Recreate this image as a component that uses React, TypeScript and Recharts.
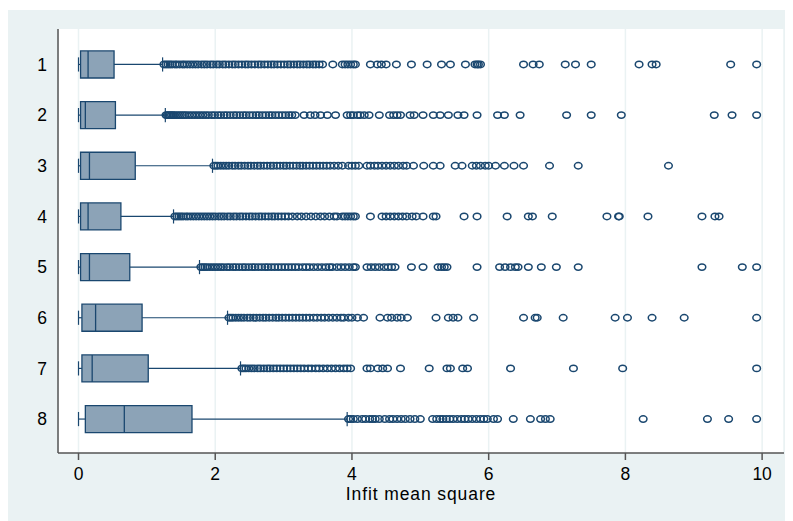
import {
  ScatterChart,
  Scatter,
  XAxis,
  YAxis,
  CartesianGrid,
  ReferenceArea,
  ReferenceLine,
} from "recharts";

const rows = [1, 2, 3, 4, 5, 6, 7, 8];
const lowerWhisker = [0, 0, 0, 0, 0, 0, 0, 0];
const q1 = [0.03, 0.03, 0.03, 0.03, 0.03, 0.05, 0.05, 0.1];
const median = [0.14, 0.1, 0.16, 0.14, 0.16, 0.25, 0.2, 0.67];
const q3 = [0.52, 0.54, 0.83, 0.62, 0.75, 0.93, 1.02, 1.66];
const upperWhisker = [1.23, 1.27, 1.96, 1.39, 1.77, 2.18, 2.37, 3.93];

const outliers1 = [
  1.25, 1.28, 1.31, 1.34, 1.37, 1.41, 1.44, 1.48, 1.52, 1.55, 1.59, 1.63, 1.67, 1.71, 1.75, 1.8,
  1.84, 1.88, 1.93, 1.97, 2.02, 2.06, 2.11, 2.15, 2.2, 2.25, 2.29, 2.34, 2.39, 2.44, 2.48, 2.53,
  2.58, 2.63, 2.67, 2.72, 2.77, 2.82, 2.86, 2.91, 2.96, 3.01, 3.06, 3.1, 3.15, 3.2, 3.24, 3.29,
  3.34, 3.38, 3.43, 3.47, 3.52, 3.57, 3.72, 3.86, 3.9, 3.94, 3.98, 4.02, 4.05, 4.27, 4.37, 4.43,
  4.5, 4.65, 4.87, 5.1, 5.31, 5.44, 5.66, 5.8, 5.83, 5.85, 5.88, 6.51, 6.65, 6.74, 7.12, 7.27,
  7.5, 8.2, 8.39, 8.45, 9.54, 9.92,
];
const outliers2 = [
  1.28, 1.3, 1.32, 1.34, 1.36, 1.38, 1.4, 1.43, 1.46, 1.49, 1.52, 1.55, 1.58, 1.62, 1.66, 1.7,
  1.74, 1.78, 1.82, 1.86, 1.9, 1.95, 1.99, 2.04, 2.08, 2.13, 2.17, 2.22, 2.27, 2.31, 2.36, 2.41,
  2.45, 2.5, 2.55, 2.6, 2.64, 2.69, 2.74, 2.79, 2.83, 2.88, 2.93, 2.98, 3.03, 3.08, 3.12, 3.17,
  3.3, 3.39, 3.46, 3.54, 3.64, 3.76, 3.93, 3.98, 4.02, 4.08, 4.12, 4.18, 4.25, 4.4, 4.55, 4.61,
  4.66, 4.71, 4.85, 4.91, 5.04, 5.19, 5.29, 5.41, 5.55, 5.64, 5.83, 6.13, 6.23, 6.46, 7.14, 7.5,
  7.94, 9.3, 9.56, 9.92,
];
const outliers3 = [
  1.98, 2.01, 2.04, 2.08, 2.12, 2.16, 2.2, 2.25, 2.29, 2.34, 2.38, 2.43, 2.48, 2.52, 2.57, 2.62,
  2.66, 2.71, 2.76, 2.81, 2.85, 2.9, 2.95, 3.0, 3.04, 3.09, 3.14, 3.19, 3.24, 3.28, 3.33, 3.38,
  3.43, 3.48, 3.53, 3.58, 3.63, 3.68, 3.74, 3.8, 3.86, 3.95, 4.0, 4.05, 4.1, 4.22, 4.27, 4.33,
  4.38, 4.44, 4.5, 4.56, 4.62, 4.68, 4.75, 4.8, 4.9, 5.05, 5.19, 5.29, 5.51, 5.61, 5.76, 5.82,
  5.88, 5.95, 6.0, 6.1, 6.23, 6.37, 6.51, 6.89, 7.31, 8.63,
];
const outliers4 = [
  1.41, 1.44, 1.47, 1.5, 1.53, 1.57, 1.6, 1.64, 1.68, 1.72, 1.76, 1.8, 1.84, 1.88, 1.92, 1.96,
  2.0, 2.05, 2.09, 2.13, 2.18, 2.22, 2.27, 2.31, 2.36, 2.4, 2.45, 2.5, 2.54, 2.59, 2.64, 2.68,
  2.73, 2.78, 2.83, 2.87, 2.92, 2.97, 3.02, 3.07, 3.13, 3.2, 3.26, 3.33, 3.4, 3.47, 3.54, 3.6,
  3.67, 3.74, 3.78, 3.86, 3.9, 3.94, 3.98, 4.02, 4.05, 4.27, 4.44, 4.5, 4.56, 4.62, 4.68, 4.74,
  4.8, 4.88, 4.94, 5.04, 5.19, 5.23, 5.64, 5.83, 6.27, 6.58, 6.64, 6.93, 7.73, 7.9, 7.91, 8.33,
  9.12, 9.31, 9.37,
];
const outliers5 = [
  1.79, 1.82, 1.85, 1.88, 1.92, 1.96, 2.0, 2.04, 2.08, 2.12, 2.17, 2.21, 2.26, 2.3, 2.35, 2.4,
  2.44, 2.49, 2.54, 2.58, 2.63, 2.68, 2.73, 2.77, 2.82, 2.87, 2.92, 2.97, 3.02, 3.07, 3.12, 3.17,
  3.22, 3.28, 3.33, 3.38, 3.44, 3.5, 3.56, 3.62, 3.67, 3.71, 3.78, 3.84, 3.9, 3.96, 4.02, 4.05,
  4.22, 4.28, 4.34, 4.4, 4.47, 4.53, 4.58, 4.63, 4.87, 5.04, 5.26, 5.31, 5.35, 5.39, 5.83, 6.16,
  6.24, 6.32, 6.39, 6.43, 6.58, 6.77, 6.99, 7.31, 9.12, 9.71, 9.92,
];
const outliers6 = [
  2.2, 2.23, 2.26, 2.3, 2.34, 2.38, 2.42, 2.47, 2.51, 2.56, 2.6, 2.65, 2.7, 2.74, 2.79, 2.84,
  2.89, 2.93, 2.98, 3.03, 3.08, 3.13, 3.18, 3.23, 3.28, 3.33, 3.38, 3.44, 3.49, 3.55, 3.6, 3.66,
  3.72, 3.78, 3.84, 3.88, 3.95, 4.0, 4.08, 4.17, 4.41, 4.52, 4.58, 4.66, 4.72, 4.81, 5.23, 5.41,
  5.48, 5.55, 5.78, 6.51, 6.68, 6.71, 7.09, 7.85, 8.03, 8.39, 8.86, 9.92,
];
const outliers7 = [
  2.39, 2.42, 2.45, 2.49, 2.53, 2.57, 2.62, 2.66, 2.71, 2.76, 2.8, 2.85, 2.9, 2.95, 3.0, 3.05,
  3.1, 3.15, 3.2, 3.25, 3.3, 3.36, 3.41, 3.47, 3.52, 3.58, 3.64, 3.7, 3.76, 3.82, 3.88, 3.93,
  3.98, 4.22, 4.27, 4.38, 4.45, 4.52, 4.71, 5.13, 5.39, 5.44, 5.62, 5.69, 6.32, 7.24, 7.96, 9.92,
];
const outliers8 = [
  3.95, 3.98, 4.02, 4.08, 4.15, 4.2, 4.26, 4.3, 4.34, 4.4, 4.48, 4.55, 4.6, 4.66, 4.72, 4.78,
  4.85, 4.92, 5.0, 5.18, 5.24, 5.29, 5.33, 5.38, 5.43, 5.48, 5.54, 5.6, 5.65, 5.7, 5.76, 5.82,
  5.88, 5.93, 5.98, 6.07, 6.13, 6.36, 6.61, 6.76, 6.83, 6.9, 8.26, 9.2, 9.51, 9.92,
];
const outliers = [outliers1, outliers2, outliers3, outliers4, outliers5, outliers6, outliers7, outliers8];

const xTicks = [0, 2, 4, 6, 8, 10];

const NAVY = "#1a476f";
const BOX_FILL = "#8ca3b7";
const BG = "#eaf2f3";
const AXIS = "#555555";
const FONT = "'Liberation Sans', Arial, sans-serif";

const BOX_HALF = 0.267;
const CAP_HALF = 0.14;

const points = rows.flatMap((r, i) => outliers[i].map((v) => ({ v, row: r })));

// hollow marker, a touch wider than tall
const Ring = (props: any) => (
  <ellipse
    cx={props.cx}
    cy={props.cy}
    rx={3.8}
    ry={3.2}
    fill="none"
    stroke={NAVY}
    strokeWidth={1.5}
  />
);

export default function App() {
  return (
    <div style={{ marginTop: 2, width: 785, height: 511, background: BG }}>
      <ScatterChart
        width={785}
        height={511}
        margin={{ top: 19, right: 9, bottom: 0, left: 0 }}
        style={{ fontFamily: FONT }}
      >
        <CartesianGrid horizontal={false} stroke={BG} strokeWidth={1.5} fill="#ffffff" />
        <XAxis
          type="number"
          dataKey="v"
          domain={[-0.3, 10.32]}
          ticks={xTicks}
          height={68}
          stroke={AXIS}
          strokeWidth={1.5}
          tickSize={7}
          tickMargin={8}
          tick={{ fill: "#000", fontSize: 17.5 }}
          label={{
            value: "Infit mean square",
            position: "insideBottom",
            offset: 21,
            fill: "#000",
            fontSize: 17.5,
            letterSpacing: 0.9,
          }}
        />
        <YAxis
          type="number"
          dataKey="row"
          domain={[0.3, 8.67]}
          reversed
          ticks={rows}
          width={50}
          stroke={AXIS}
          strokeWidth={1.5}
          tickLine={false}
          tickSize={6}
          tickMargin={5}
          tick={{ fill: "#000", fontSize: 17.5 }}
        />
        {rows.map((r, i) => (
          <ReferenceArea
            key={`box-${r}`}
            x1={q1[i]}
            x2={q3[i]}
            y1={r - BOX_HALF}
            y2={r + BOX_HALF}
            fill={BOX_FILL}
            fillOpacity={1}
            stroke={NAVY}
            strokeWidth={1.3}
          />
        ))}
        {rows.map((r, i) => (
          <ReferenceLine
            key={`med-${r}`}
            segment={[
              { x: median[i], y: r - BOX_HALF },
              { x: median[i], y: r + BOX_HALF },
            ]}
            stroke={NAVY}
            strokeWidth={1.3}
          />
        ))}
        {rows.map((r, i) => (
          <ReferenceLine
            key={`wlo-${r}`}
            segment={[
              { x: lowerWhisker[i], y: r },
              { x: q1[i], y: r },
            ]}
            stroke={NAVY}
            strokeWidth={1.2}
          />
        ))}
        {rows.map((r, i) => (
          <ReferenceLine
            key={`whi-${r}`}
            segment={[
              { x: q3[i], y: r },
              { x: upperWhisker[i], y: r },
            ]}
            stroke={NAVY}
            strokeWidth={1.2}
          />
        ))}
        {rows.map((r, i) => (
          <ReferenceLine
            key={`clo-${r}`}
            segment={[
              { x: lowerWhisker[i], y: r - CAP_HALF },
              { x: lowerWhisker[i], y: r + CAP_HALF },
            ]}
            stroke={NAVY}
            strokeWidth={1.2}
          />
        ))}
        {rows.map((r, i) => (
          <ReferenceLine
            key={`chi-${r}`}
            segment={[
              { x: upperWhisker[i], y: r - CAP_HALF },
              { x: upperWhisker[i], y: r + CAP_HALF },
            ]}
            stroke={NAVY}
            strokeWidth={1.2}
          />
        ))}
        <Scatter data={points} shape={<Ring />} isAnimationActive={false} />
      </ScatterChart>
    </div>
  );
}
